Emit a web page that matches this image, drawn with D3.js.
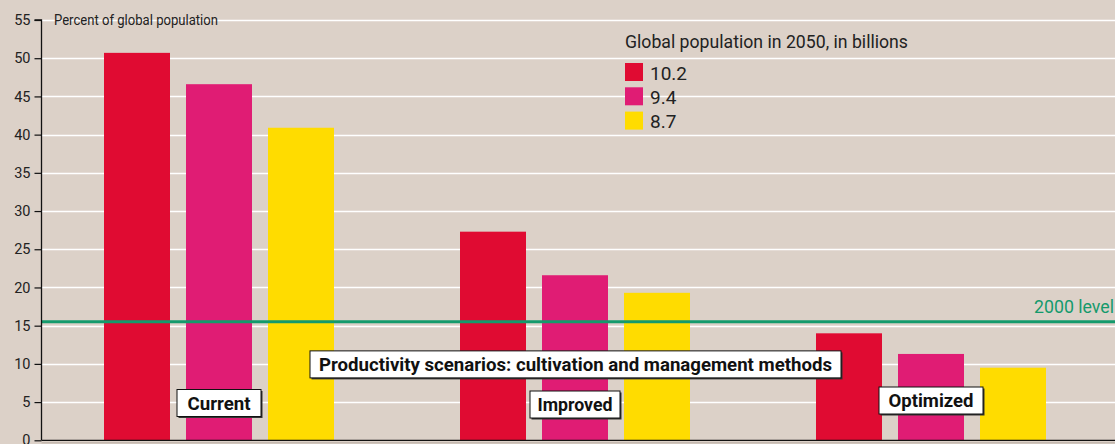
<!DOCTYPE html>
<html>
<head>
<meta charset="utf-8">
<script src="https://cdn.jsdelivr.net/npm/d3@7"></script>
<style>
  html, body { margin: 0; padding: 0; background: #dcd1c8; }
  svg { display: block; }
  text { font-family: "Roboto", "Liberation Sans", sans-serif; }
</style>
</head>
<body>
<svg id="chart" width="1115" height="444"></svg>
<script>
// Scenarios along the x axis
const scenarios = ["Current", "Improved", "Optimized"];
// Global population in 2050 (billions), one series per scenario bar
const populations = ["10.2", "9.4", "8.7"];
// Percent of global population, per population series, across scenarios
const values102 = [50.7, 27.3, 14.0];
const values94 = [46.6, 21.6, 11.3];
const values87 = [40.9, 19.3, 9.5];
const seriesValues = [values102, values94, values87];
// Reference line: 2000 level
const level2000 = 15.5;
const yTicks = [0, 5, 10, 15, 20, 25, 30, 35, 40, 45, 50, 55];

const colors = ["#e00b32", "#e01c74", "#ffdc00"];
const W = 1115, H = 444;
const svg = d3.select("#chart");

const axisX = 41.5;
const y = d3.scaleLinear().domain([0, 55]).range([440.3, 20]);
const x0 = d3.scaleBand().domain(scenarios).range([41, 1109]).paddingInner(0).paddingOuter(0);
const x1 = d3.scaleBand().domain(populations).range([63, 293]).paddingInner(16 / 82).paddingOuter(0);

// Condensed text helper: squeeze a label to a set width
function fit(sel, w) {
  return sel.attr("textLength", w).attr("lengthAdjust", "spacingAndGlyphs");
}

// Gridlines
svg.append("g").selectAll("line").data(yTicks.filter(d => d > 0)).join("line")
  .attr("x1", axisX).attr("x2", W)
  .attr("y1", d => Math.round(y(d)) + 0.5).attr("y2", d => Math.round(y(d)) + 0.5)
  .attr("stroke", "#ffffff").attr("stroke-width", 1.3);

// Bars
const rows = [];
scenarios.forEach((s, i) => populations.forEach((p, j) => rows.push({ s, p, v: seriesValues[j][i], c: colors[j] })));
svg.append("g").selectAll("rect").data(rows).join("rect")
  .attr("x", d => x0(d.s) + x1(d.p))
  .attr("width", x1.bandwidth())
  .attr("y", d => y(d.v))
  .attr("height", d => y(0) - y(d.v))
  .attr("fill", d => d.c);

// 2000 level reference line
svg.append("line")
  .attr("x1", axisX).attr("x2", W)
  .attr("y1", y(level2000)).attr("y2", y(level2000))
  .attr("stroke", "#149a6c").attr("stroke-width", 3);
fit(svg.append("text")
  .attr("x", 1034).attr("y", y(level2000) - 9)
  .attr("font-size", 18)
  .attr("fill", "#149a6c").text("2000 level"), 80);

// Y axis
const yAxis = d3.axisLeft(y).tickValues(yTicks).tickSize(7).tickPadding(4);
const gy = svg.append("g").attr("transform", `translate(${axisX},0)`).call(yAxis);
gy.select(".domain").attr("stroke", "#111").attr("stroke-width", 1.3).attr("d", `M-7,${y(55)}H0V${y(0)}`);
gy.selectAll(".tick line").attr("stroke", "#111").attr("stroke-width", 1.2);
gy.selectAll(".tick text").attr("font-size", 14.5).attr("fill", "#222")
  .style("font-family", "Roboto, sans-serif");

// Baseline
svg.append("line").attr("x1", axisX).attr("x2", W).attr("y1", y(0)).attr("y2", y(0))
  .attr("stroke", "#111").attr("stroke-width", 1.3);
svg.append("line").attr("x1", axisX).attr("x2", W).attr("y1", y(0) + 2.5).attr("y2", y(0) + 2.5)
  .attr("stroke", "#c4b9b0").attr("stroke-width", 1.5);

// Unit label
fit(svg.append("text").attr("x", 54).attr("y", 25).attr("font-size", 14).attr("fill", "#222")
  .text("Percent of global population"), 164);

// Legend
const lg = svg.append("g").attr("transform", "translate(625,0)");
fit(lg.append("text").attr("x", 0).attr("y", 48).attr("font-size", 19).attr("fill", "#222")
  .text("Global population in 2050, in billions"), 283);
const li = lg.selectAll("g.item").data(populations).join("g").attr("class", "item")
  .attr("transform", (d, i) => `translate(0,${63 + i * 24.3})`);
li.append("rect").attr("width", 18).attr("height", 18).attr("fill", (d, i) => colors[i]);
li.append("text").attr("x", 25).attr("y", 16.5).attr("font-size", 19).attr("fill", "#222").text(d => d);

// Boxed labels
function boxLabel(cx, cy, txt, textW, boxW) {
  const g = svg.append("g");
  fit(g.append("text").attr("x", cx - textW / 2).attr("y", cy + 6.5)
    .attr("font-size", 18.5).attr("font-weight", "bold")
    .attr("fill", "#111").text(txt), textW);
  const h = 27;
  g.insert("rect", "text").attr("x", cx - boxW / 2 + 1.5).attr("y", cy - h / 2 + 1.5)
    .attr("width", boxW).attr("height", h).attr("fill", "#333");
  g.insert("rect", "text").attr("x", cx - boxW / 2).attr("y", cy - h / 2)
    .attr("width", boxW).attr("height", h).attr("fill", "#fff")
    .attr("stroke", "#111").attr("stroke-width", 1);
}
const labelY = [403, 404.5, 400.5];
const labelTextW = [63, 75, 85];
const labelBoxW = [84, 90, 104];
scenarios.forEach((s, i) => boxLabel(x0(s) + x0.bandwidth() / 2, labelY[i], s, labelTextW[i], labelBoxW[i]));
boxLabel(575.5, y(10) + 0.5, "Productivity scenarios: cultivation and management methods", 513, 531);
</script>
</body>
</html>
